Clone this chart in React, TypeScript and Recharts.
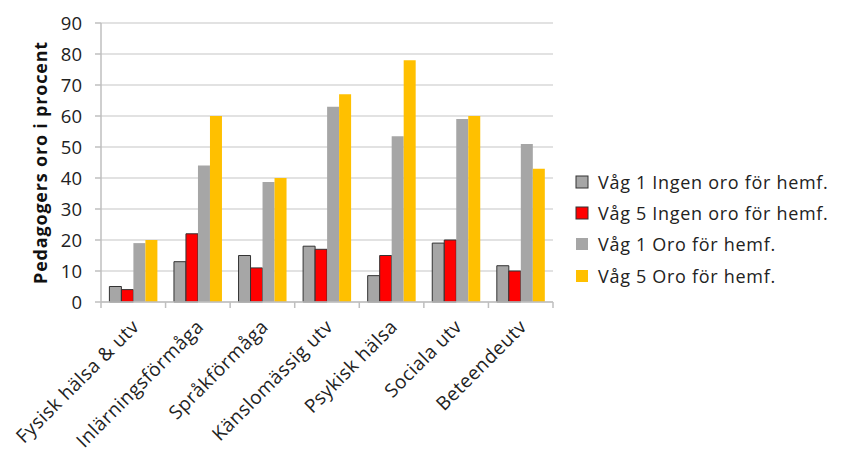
import React from "react";
import { BarChart, Bar, XAxis, YAxis, CartesianGrid } from "recharts";

const categories = [
  "Fysisk hälsa & utv",
  "Inlärningsförmåga",
  "Språkförmåga",
  "Känslomässig utv",
  "Psykisk hälsa",
  "Sociala utv",
  "Beteendeutv",
];
const vag1Ingen = [5, 13, 15, 18, 8.5, 19, 11.7];
const vag5Ingen = [4, 22, 11, 17, 15, 20, 10];
const vag1Oro = [19, 44, 38.7, 63, 53.5, 59, 51];
const vag5Oro = [20, 60, 40, 67, 78, 60, 43];
const yTicks = [0, 10, 20, 30, 40, 50, 60, 70, 80, 90];

const seriesNames = [
  "Våg 1 Ingen oro för hemf.",
  "Våg 5 Ingen oro för hemf.",
  "Våg 1 Oro för hemf.",
  "Våg 5 Oro för hemf.",
];

const data = categories.map((c, i) => ({
  name: c,
  a: vag1Ingen[i],
  b: vag5Ingen[i],
  c: vag1Oro[i],
  d: vag5Oro[i],
}));

const FONT = "'Open Sans', Lato, sans-serif";

const XTick = (props: any) => {
  const { x, y, payload, index, visibleTicksCount } = props;
  const off = payload.offset || 0;
  const ax = x + 7;
  const ay = y + 18;
  return (
    <g>
      <line x1={x - off} x2={x - off} y1={y - 8} y2={y - 2} stroke="#bfbfbf" strokeWidth={1.5} />
      {index === visibleTicksCount - 1 && (
        <line x1={x + off} x2={x + off} y1={y - 8} y2={y - 2} stroke="#bfbfbf" strokeWidth={1.5} />
      )}
      <text
        x={ax}
        y={ay}
        textAnchor="end"
        transform={`rotate(-45, ${ax}, ${ay})`}
        fill="#222"
        fontSize={19}
        letterSpacing={0.5}
        fontFamily={FONT}
      >
        {payload.value}
      </text>
    </g>
  );
};

const legendColors = [
  { fill: "#a6a6a6", stroke: "#333" },
  { fill: "#ff0000", stroke: "#333" },
  { fill: "#a6a6a6", stroke: "none" },
  { fill: "#ffc000", stroke: "none" },
];

const LegendBox = () => (
  <div
    style={{
      position: "absolute",
      left: 575,
      top: 166,
      width: 267,
      fontFamily: FONT,
      fontSize: 18,
      letterSpacing: 0.7,
      color: "#222",
    }}
  >
    {seriesNames.map((n, i) => (
      <div key={n} style={{ display: "flex", alignItems: "center", height: 31.3 }}>
        <svg width={20} height={14} style={{ marginRight: 3 }}>
          <rect
            x={1}
            y={1}
            width={12}
            height={12}
            fill={legendColors[i].fill}
            stroke={legendColors[i].stroke}
            strokeWidth={1}
          />
        </svg>
        <span>{n}</span>
      </div>
    ))}
  </div>
);

export default function App() {
  return (
    <div style={{ position: "absolute", left: 0, top: 0, width: 842, height: 452, background: "#fff" }}>
      <BarChart
        width={842}
        height={452}
        data={data}
        margin={{ top: 23, right: 289, bottom: 0, left: 0 }}
        barCategoryGap="13%"
        barGap={0}
      >
        <CartesianGrid vertical={false} stroke="#d9d9d9" strokeWidth={1.5} />
        <XAxis
          dataKey="name"
          interval={0}
          tick={<XTick />}
          tickLine={false}
          axisLine={{ stroke: "#bfbfbf", strokeWidth: 1.5 }}
          height={150}
        />
        <YAxis
          width={101}
          domain={[0, 90]}
          ticks={yTicks}
          interval={0}
          tick={{ fill: "#222", fontSize: 18.5, fontFamily: FONT }}
          tickLine={{ stroke: "#bfbfbf", strokeWidth: 1.5 }}
          tickSize={6}
          tickMargin={13}
          axisLine={{ stroke: "#bfbfbf", strokeWidth: 1.5 }}
          label={{
            value: "Pedagogers oro i procent",
            angle: -90,
            position: "insideLeft",
            dx: 36,
            dy: 0,
            style: {
              textAnchor: "middle",
              fontFamily: FONT,
              fontWeight: 700,
              fontSize: 18,
              letterSpacing: 0.8,
              fill: "#111",
            },
          }}
        />
        <Bar dataKey="a" name={seriesNames[0]} fill="#a6a6a6" stroke="#333" strokeWidth={1} isAnimationActive={false} />
        <Bar dataKey="b" name={seriesNames[1]} fill="#ff0000" stroke="#333" strokeWidth={1} isAnimationActive={false} />
        <Bar dataKey="c" name={seriesNames[2]} fill="#a6a6a6" isAnimationActive={false} />
        <Bar dataKey="d" name={seriesNames[3]} fill="#ffc000" isAnimationActive={false} />
      </BarChart>
      <LegendBox />
    </div>
  );
}
